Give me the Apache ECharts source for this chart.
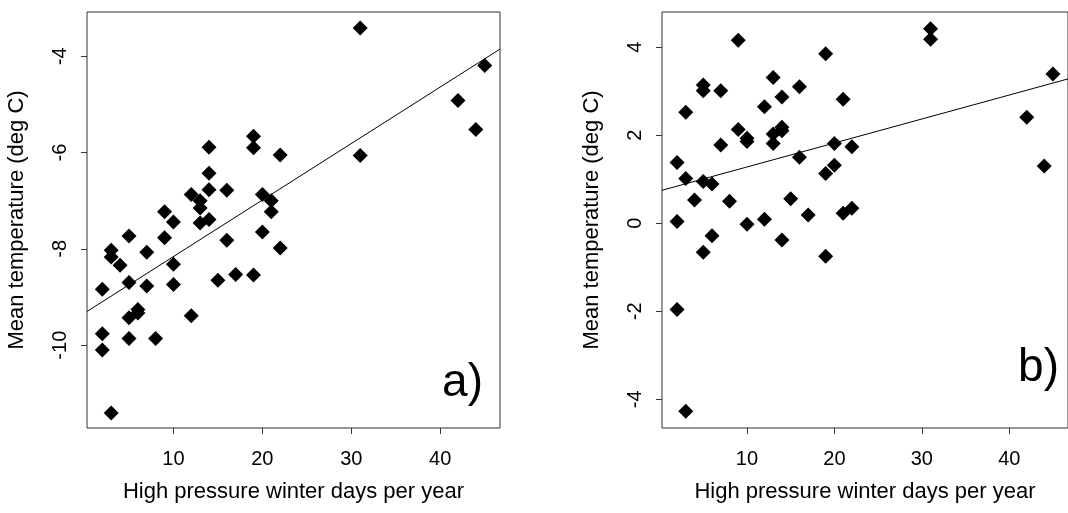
<!DOCTYPE html>
<html>
<head>
<meta charset="utf-8">
<script src="https://cdn.jsdelivr.net/npm/echarts@6/dist/echarts.min.js"></script>
<style>
html,body{margin:0;padding:0;background:#fff;}
#chart{width:1068px;height:513px;}
</style>
</head>
<body>
<div id="chart"></div>
<script>
// ---- data ----
const xA = [2,2,2, 3,3,3, 4, 5,5,5,5, 6,6, 7,7, 8, 9,9, 10,10,10, 12,12, 13,13,13, 14,14,14,14, 15, 16,16, 17, 19,19,19, 20,20, 21,21, 22,22, 31,31, 42, 44, 45];
const yA = [-8.84,-9.76,-10.10, -8.03,-8.17,-11.41, -8.34, -7.73,-8.70,-9.43,-9.86, -9.26,-9.33, -8.07,-8.77, -9.86, -7.23,-7.77, -7.44,-8.32,-8.74, -6.87,-9.39, -7.00,-7.15,-7.46, -5.89,-6.43,-6.77,-7.39, -8.65, -6.78,-7.82, -8.53, -5.66,-5.90,-8.54, -6.87,-7.65, -7.00,-7.23, -6.05,-7.98, -3.41,-6.06, -4.92, -5.52, -4.19];
const xB = [2,2,2, 3,3,3, 4, 5,5,5,5, 6,6, 7,7, 8, 9,9, 10,10,10, 12,12, 13,13,13, 14,14,14,14, 15, 16,16, 17, 19,19,19, 20,20, 21,21, 22,22, 31,31, 42, 44, 45];
const yB = [1.38,0.04,-1.96, 2.52,1.02,-4.27, 0.53, 3.14,3.01,0.95,-0.66, 0.89,-0.28, 3.01,1.78, 0.50, 4.16,2.13, 1.93,1.86,-0.02, 2.65,0.09, 3.31,2.03,1.81, 2.87,2.18,2.10,-0.38, 0.56, 3.10,1.50, 0.19, 3.85,1.13,-0.75, 1.81,1.32, 2.82,0.23, 1.74,0.34, 4.42,4.18, 2.41, 1.30, 3.39];
// fitted line end points
const lineAx = [0.28, 46.72];
const lineAy = [-9.30, -3.85];
const lineBx = [0.28, 46.72];
const lineBy = [0.75, 3.28];
// axis ranges and tick labels
const xRange = [0.28, 46.72];
const yRangeA = [-11.72, -3.08];
const yRangeB = [-4.65, 4.80];
const xTicks = [10, 20, 30, 40];
const yTicksA = [-10, -8, -6, -4];
const yTicksB = [-4, -2, 0, 2, 4];
const xName = 'High pressure winter days per year';
const yName = 'Mean temperature (deg C)';
const panelLabels = ['a)', 'b)'];

const FONT = '"Liberation Sans", Arial, Helvetica, sans-serif';
const INK = '#000';

function pairs(xs, ys){ return xs.map((x,i)=>[x, ys[i]]); }

function xAxisCfg(gi){
  return {
    type:'value', gridIndex:gi, min:xRange[0], max:xRange[1],
    name:xName, nameLocation:'middle', nameGap:53,
    nameTextStyle:{fontFamily:FONT, fontSize:22, color:INK},
    axisLine:{show:false, onZero:false},
    axisTick:{show:true, length:6, inside:false, customValues:xTicks, lineStyle:{color:'#333', width:1}},
    axisLabel:{show:true, customValues:xTicks, margin:21, fontFamily:FONT, fontSize:20, color:INK},
    splitLine:{show:false}
  };
}
function yAxisCfg(gi, range, ticks){
  return {
    type:'value', gridIndex:gi, min:range[0], max:range[1],
    name:yName, nameLocation:'middle', nameGap:59, nameRotate:90,
    nameTextStyle:{fontFamily:FONT, fontSize:22, color:INK},
    axisLine:{show:false, onZero:false},
    axisTick:{show:true, length:6, inside:false, customValues:ticks, lineStyle:{color:'#333', width:1}},
    axisLabel:{show:true, customValues:ticks, rotate:90, margin:17, fontFamily:FONT, fontSize:20, color:INK},
    splitLine:{show:false}
  };
}

const chart = echarts.init(document.getElementById('chart'), null, {renderer:'canvas'});
chart.setOption({
  animation:false,
  backgroundColor:'#fff',
  grid:[
    {left:87, top:12, width:413, height:416, show:true, borderColor:'#333', borderWidth:1, backgroundColor:'transparent'},
    {left:662, top:12, width:415, height:416, show:true, borderColor:'#333', borderWidth:1, backgroundColor:'transparent'}
  ],
  xAxis:[xAxisCfg(0), xAxisCfg(1)],
  yAxis:[yAxisCfg(0, yRangeA, yTicksA), yAxisCfg(1, yRangeB, yTicksB)],
  series:[
    {type:'line', xAxisIndex:0, yAxisIndex:0, data:pairs(lineAx, lineAy), symbol:'none', lineStyle:{color:'#000', width:1}, clip:true, silent:true},
    {type:'scatter', xAxisIndex:0, yAxisIndex:0, data:pairs(xA, yA), symbol:'diamond', symbolSize:15, itemStyle:{color:'#000', opacity:1}},
    {type:'line', xAxisIndex:1, yAxisIndex:1, data:pairs(lineBx, lineBy), symbol:'none', lineStyle:{color:'#000', width:1}, clip:true, silent:true},
    {type:'scatter', xAxisIndex:1, yAxisIndex:1, data:pairs(xB, yB), symbol:'diamond', symbolSize:15, itemStyle:{color:'#000', opacity:1}}
  ],
  graphic:[
    {type:'text', right:1068-483, top:360, style:{text:panelLabels[0], font:'46px '+FONT, fill:'#000'}},
    {type:'text', right:1068-1059, top:345, style:{text:panelLabels[1], font:'46px '+FONT, fill:'#000'}}
  ]
});
</script>
</body>
</html>
